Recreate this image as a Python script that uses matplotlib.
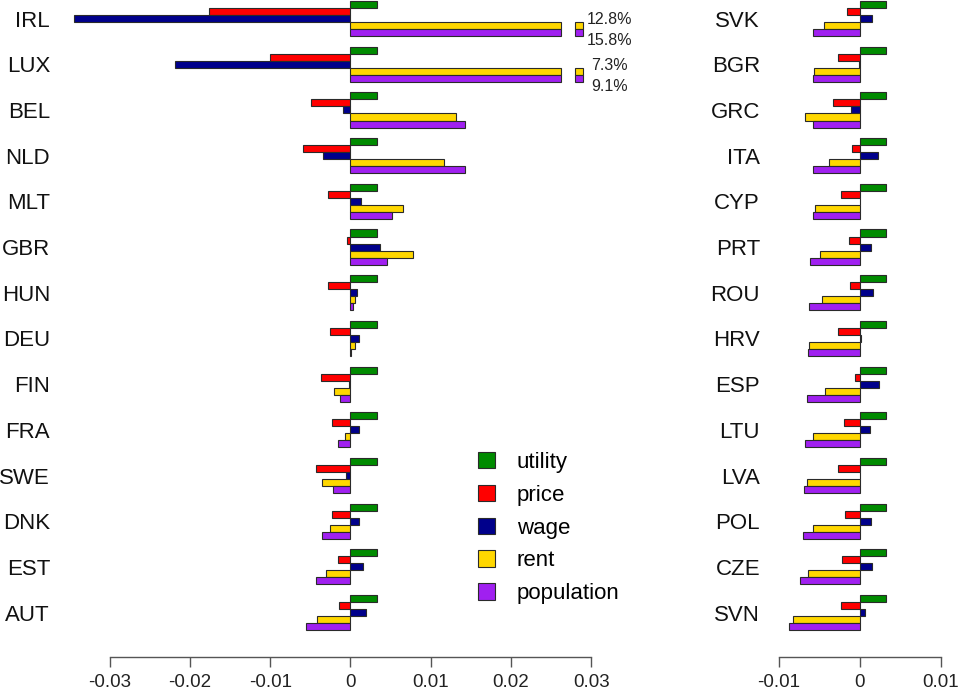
import matplotlib
matplotlib.use('Agg')
import matplotlib.pyplot as plt
from matplotlib.patches import Patch
import numpy as np

plt.rcParams['font.family'] = ['Liberation Sans', 'DejaVu Sans']

series = ['utility', 'price', 'wage', 'rent', 'population']
colors = ['#008B00', '#FF0000', '#00008B', '#FFD700', '#A020F0']

left_countries = ['IRL', 'LUX', 'BEL', 'NLD', 'MLT', 'GBR', 'HUN', 'DEU', 'FIN', 'FRA', 'SWE', 'DNK', 'EST', 'AUT']
left_utility = [0.0033] * 14
left_price = [-0.0176, -0.0100, -0.0049, -0.0059, -0.0028, -0.0004, -0.0028, -0.0025, -0.0037, -0.0023, -0.0043, -0.0023, -0.0016, -0.0014]
left_wage = [-0.0344, -0.0218, -0.0009, -0.0034, 0.0013, 0.0037, 0.0008, 0.0010, -0.0002, 0.0011, -0.0006, 0.0011, 0.0015, 0.0019]
left_rent = [0.128, 0.073, 0.0132, 0.0116, 0.0066, 0.0078, 0.0005, 0.0005, -0.0020, -0.0007, -0.0035, -0.0026, -0.0030, -0.0042]
left_population = [0.158, 0.091, 0.0143, 0.0143, 0.0052, 0.0045, 0.0003, 0.0001, -0.0013, -0.0016, -0.0022, -0.0036, -0.0043, -0.0056]

right_countries = ['SVK', 'BGR', 'GRC', 'ITA', 'CYP', 'PRT', 'ROU', 'HRV', 'ESP', 'LTU', 'LVA', 'POL', 'CZE', 'SVN']
right_utility = [0.0033] * 14
right_price = [-0.0016, -0.0027, -0.0033, -0.0009, -0.0023, -0.0013, -0.0012, -0.0026, -0.0005, -0.0019, -0.0026, -0.0018, -0.0022, -0.0023]
right_wage = [0.0016, -0.0001, -0.0010, 0.0023, 0.0001, 0.0014, 0.0017, 0.0002, 0.0024, 0.0013, 0.0001, 0.0014, 0.0016, 0.0007]
right_rent = [-0.0044, -0.0056, -0.0067, -0.0038, -0.0055, -0.0049, -0.0046, -0.0062, -0.0043, -0.0058, -0.0065, -0.0057, -0.0064, -0.0082]
right_population = [-0.0057, -0.0058, -0.0058, -0.0058, -0.0058, -0.0061, -0.0062, -0.0064, -0.0065, -0.0067, -0.0068, -0.0070, -0.0074, -0.0087]

left_ticks = [-0.03, -0.02, -0.01, 0, 0.01, 0.02, 0.03]
left_ticklabels = ['-0.03', '-0.02', '-0.01', '0', '0.01', '0.02', '0.03']
right_ticks = [-0.01, 0, 0.01]
right_ticklabels = ['-0.01', '0', '0.01']

W, H = 958, 695
fig = plt.figure(figsize=(W / 100, H / 100), dpi=100)

UNIT = 7.03      # px per bar height
GROUP = 6.5      # bar units per group
AX_BOTTOM_PX = 657
Y_TOP = -1 / UNIT
Y_BOT = (AX_BOTTOM_PX - 1) / UNIT
EDGE = '#2a2a2a'
SPINE = '#555555'


def make_panel(zero_px, scale, xlim, countries, data, ticks, ticklabels, label_right_px,
               cap=None):
    x0 = zero_px + xlim[0] * scale
    x1 = zero_px + xlim[1] * scale
    ax = fig.add_axes([x0 / W, (H - AX_BOTTOM_PX) / H, (x1 - x0) / W, AX_BOTTOM_PX / H])
    ax.set_xlim(*xlim)
    ax.set_ylim(Y_BOT, Y_TOP)
    n = len(countries)
    base = np.arange(n) * GROUP
    for j, (vals, col) in enumerate(zip(data, colors)):
        vals = np.asarray(vals, dtype=float)
        pos = base + j + 0.5
        disp = vals if cap is None else np.minimum(vals, cap)
        ax.barh(pos, disp, height=1.0, color=col, edgecolor=EDGE, linewidth=0.8)
        if cap is not None:
            over = vals > cap
            if over.any():
                ax.barh(pos[over], 0.001, left=0.028, height=1.0, color=col,
                        edgecolor=EDGE, linewidth=0.8)
                off = -0.8 if j == 3 else 1.15
                for p, v in zip(pos[over], vals[over]):
                    ax.text(0.0322, p + off, f'{v * 100:.1f}%', ha='center', va='center',
                            fontsize=11.5, color='#222222', clip_on=False)
    ax.set_yticks(base + 2.5)
    ax.set_yticklabels(countries, fontsize=16, color='#111111')
    ax.tick_params(axis='y', length=0, pad=(x0 - label_right_px) / 1.389)
    ax.set_xticks(ticks)
    ax.set_xticklabels(ticklabels, fontsize=13.5, color='#222222')
    ax.tick_params(axis='x', length=7.2, width=1.0, color=SPINE, pad=5.0, direction='out')
    for s in ['top', 'right', 'left']:
        ax.spines[s].set_visible(False)
    ax.spines['bottom'].set_bounds(ticks[0], ticks[-1])
    ax.spines['bottom'].set_color(SPINE)
    ax.spines['bottom'].set_linewidth(1.0)
    ax.patch.set_visible(False)
    return ax


axL = make_panel(350.5, 8030, (-0.036, 0.036), left_countries,
                 [left_utility, left_price, left_wage, left_rent, left_population],
                 left_ticks, left_ticklabels, 50, cap=0.0262)
axR = make_panel(859.5, 8100, (-0.0115, 0.0115), right_countries,
                 [right_utility, right_price, right_wage, right_rent, right_population],
                 right_ticks, right_ticklabels, 760)

handles = [Patch(facecolor=c, edgecolor=EDGE, linewidth=0.8, label=s) for s, c in zip(series, colors)]
fig.legend(handles=handles, loc='upper left', bbox_to_anchor=(478 / W, 1 - 452 / H),
           frameon=False, fontsize=16, handlelength=0.75, handleheight=0.75,
           handletextpad=1.0, labelspacing=0.53, borderpad=0, borderaxespad=0)

fig.savefig('out.png', dpi=100)
